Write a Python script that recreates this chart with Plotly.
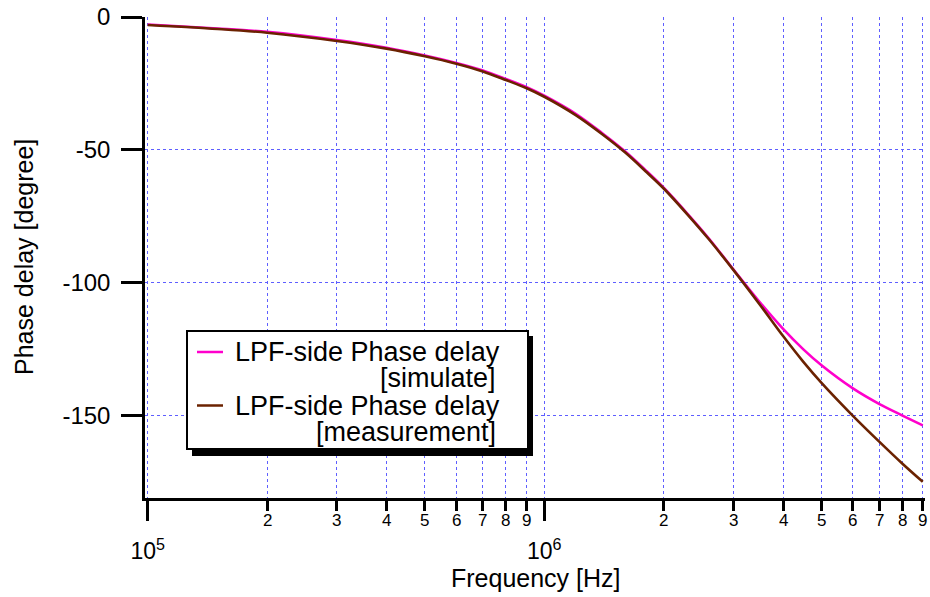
import math
import plotly.graph_objects as go

# ---- data ----
freq_hz = [1e5, 1.5e5, 2e5, 3e5, 4e5, 5e5, 6e5, 7e5, 8e5, 9e5,
           1e6, 1.2e6, 1.4e6, 1.6e6, 1.8e6, 2e6, 2.3e6, 2.6e6, 3e6,
           3.5e6, 4e6, 4.5e6, 5e6, 6e6, 7e6, 8e6, 9e6]
phase_sim = [-2.8, -4.3, -5.6, -8.7, -11.6, -14.5, -17.3, -20.1, -23.3, -26.3,
             -29.6, -36.4, -43.7, -50.6, -57.6, -64.2, -74.1, -83.3, -95.0,
             -107.4, -117.3, -125.0, -131.0, -139.7, -145.6, -149.9, -153.6]
phase_meas = [-3.0, -4.5, -5.9, -9.0, -11.9, -14.8, -17.6, -20.5, -23.7, -26.7,
              -30.0, -36.9, -44.1, -51.0, -58.0, -64.5, -74.4, -83.6, -95.2,
              -108.3, -120.0, -129.7, -137.6, -150.0, -159.8, -168.0, -174.8]

series_names = ["LPF-side Phase delay", "LPF-side Phase delay"]
series_tags = ["[simulate]", "[measurement]"]
series_colors = ["#ff00cc", "#6b2200"]

major_ticks = [1e5, 1e6]
major_text = ["10<sup>5</sup>", "10<sup>6</sup>"]
minor_ticks = [m * d for d in (1e5, 1e6) for m in range(2, 10)]
minor_text = [str(m) for d in (1e5, 1e6) for m in range(2, 10)]
y_ticks = [0, -50, -100, -150]
y_text = ["0", "-50", "-100", "-150"]

FONT = "Liberation Sans, Arial, Helvetica, sans-serif"
GRID = "rgb(95,95,255)"
DASH = "3px,3px"

W, H = 930, 597
ML, MR, MT, MB = 145, 5, 17, 99
PW, PH = W - ML - MR, H - MT - MB


def px(xp):
    return (xp - ML) / PW


def py(yp):
    return (H - MB - yp) / PH


fig = go.Figure()
for yv, nm, col in zip([phase_sim, phase_meas], series_names, series_colors):
    fig.add_trace(go.Scatter(x=freq_hz, y=yv, mode="lines", name=nm,
                             line=dict(color=col, width=2.6, shape="spline", smoothing=0.9),
                             showlegend=False, hoverinfo="x+y"))

x0 = 5 - 2.7 / 396.6
x1 = x0 + PW / 396.6

fig.update_layout(
    width=W, height=H,
    margin=dict(l=ML, r=MR, t=MT, b=MB, autoexpand=False),
    paper_bgcolor="white", plot_bgcolor="white",
    font=dict(family=FONT, color="black"),
    xaxis=dict(type="log", range=[x0, x1], automargin=False,
               tickmode="array", tickvals=major_ticks, ticktext=major_text,
               ticks="outside", ticklen=20, tickwidth=2.5, tickcolor="black",
               tickfont=dict(size=23, family=FONT), ticklabelstandoff=11,
               showline=True, linecolor="black", linewidth=2.5,
               showgrid=True, gridcolor=GRID, griddash=DASH, gridwidth=1,
               zeroline=False,
               minor=dict(tickmode="array", tickvals=minor_ticks, ticks="outside",
                          ticklen=10, tickwidth=2.5, tickcolor="black",
                          showgrid=True, gridcolor=GRID, griddash=DASH, gridwidth=1)),
    yaxis=dict(range=[-180.9, 0], automargin=False,
               tickmode="array", tickvals=y_ticks, ticktext=y_text,
               ticks="outside", ticklen=21, tickwidth=2.5, tickcolor="black",
               tickfont=dict(size=24, family=FONT), ticklabelstandoff=6,
               showline=True, linecolor="black", linewidth=2.5,
               showgrid=True, gridcolor=GRID, griddash=DASH, gridwidth=1,
               zeroline=False),
)

annotations = []
# minor tick labels
for v, t in zip(minor_ticks, minor_text):
    annotations.append(dict(x=math.log10(v), y=0, xref="x", yref="paper", text=t,
                            showarrow=False, yanchor="top", yshift=-11,
                            font=dict(size=17, family=FONT, color="black")))
# axis titles
annotations.append(dict(x=px(536), y=py(578), xref="paper", yref="paper",
                        text="Frequency [Hz]", showarrow=False,
                        xanchor="center", yanchor="middle",
                        font=dict(size=25, family=FONT, color="black")))
annotations.append(dict(x=px(24), y=py(257), xref="paper", yref="paper",
                        text="Phase delay [degree]", showarrow=False, textangle=-90,
                        xanchor="center", yanchor="middle",
                        font=dict(size=25, family=FONT, color="black")))

shapes = []
# legend shadow and box
shapes.append(dict(type="rect", xref="paper", yref="paper",
                   x0=px(192), x1=px(533), y0=py(456), y1=py(336),
                   fillcolor="black", line=dict(width=0), layer="above"))
shapes.append(dict(type="rect", xref="paper", yref="paper",
                   x0=px(187), x1=px(528), y0=py(449), y1=py(331),
                   fillcolor="white", line=dict(color="black", width=2), layer="above"))

legend_rows = [352, 405.5]
for i, (nm, tag, col) in enumerate(zip(series_names, series_tags, series_colors)):
    yr = legend_rows[i]
    shapes.append(dict(type="line", xref="paper", yref="paper",
                       x0=px(197), x1=px(223), y0=py(yr), y1=py(yr),
                       line=dict(color=col, width=2.5), layer="above"))
    annotations.append(dict(x=px(234), y=py(yr), xref="paper", yref="paper",
                            text=nm, showarrow=False, xanchor="left", yanchor="middle",
                            borderpad=0,
                            font=dict(size=27, family=FONT, color="black")))
    annotations.append(dict(x=px(497), y=py(yr + 26), xref="paper", yref="paper",
                            text=tag, showarrow=False, xanchor="right", yanchor="middle",
                            borderpad=0,
                            font=dict(size=27, family=FONT, color="black")))

fig.update_layout(annotations=annotations, shapes=shapes)
fig.write_html("out.html", config={"displayModeBar": False},
               post_script="document.body.style.margin='0';document.body.style.padding='0';")
